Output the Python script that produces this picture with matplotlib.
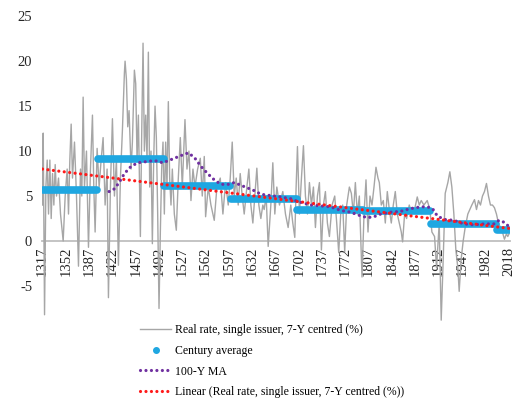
import matplotlib
matplotlib.use('Agg')
import matplotlib.pyplot as plt
from matplotlib.lines import Line2D

plt.rcParams['font.family'] = ['Liberation Serif', 'DejaVu Serif']
plt.rcParams['axes.unicode_minus'] = False

# real rate, single issuer, 7-Y centred (%)
rate_years = [1317, 1318, 1320, 1322, 1324, 1326, 1328, 1330, 1332, 1334, 1336, 1338, 1341, 1344,
              1348, 1351, 1354, 1356, 1358, 1360, 1362, 1365, 1368, 1371, 1374, 1376, 1378, 1380,
              1383, 1386, 1389, 1392, 1394, 1396, 1399, 1402, 1405, 1408, 1411, 1414, 1416, 1419,
              1422, 1425, 1428, 1431, 1434, 1437, 1440, 1441, 1443, 1445, 1447, 1450, 1452, 1455,
              1457, 1459, 1461, 1464, 1466, 1468, 1470, 1472, 1474, 1476, 1478, 1480, 1482, 1484,
              1486, 1488, 1490, 1492, 1494, 1496, 1498, 1500, 1502, 1504, 1506, 1508, 1510, 1512,
              1515, 1518, 1521, 1524, 1527, 1531, 1534, 1537, 1540, 1543, 1546, 1550, 1554, 1557,
              1560, 1562, 1566, 1570, 1575, 1579, 1584, 1588, 1592, 1596, 1599, 1602, 1605, 1608,
              1611, 1614, 1617, 1620, 1624, 1627, 1630, 1633, 1636, 1639, 1642, 1645, 1648, 1650,
              1653, 1656, 1660, 1663, 1666, 1669, 1673, 1678, 1682, 1686, 1690, 1693, 1696, 1698,
              1700, 1703, 1706, 1709, 1712, 1715, 1718, 1721, 1724, 1727, 1730, 1733, 1736, 1739,
              1742, 1745, 1748, 1752, 1756, 1759, 1762, 1765, 1768, 1771, 1774, 1778, 1781, 1784,
              1787, 1790, 1793, 1797, 1800, 1803, 1806, 1809, 1812, 1815, 1818, 1821, 1823, 1826,
              1829, 1832, 1835, 1838, 1841, 1844, 1847, 1850, 1853, 1856, 1858, 1861, 1864, 1868,
              1872, 1876, 1880, 1883, 1886, 1890, 1895, 1899, 1902, 1906, 1909, 1913, 1916, 1919,
              1922, 1926, 1929, 1932, 1935, 1938, 1941, 1943, 1946, 1949, 1952, 1956, 1959, 1962,
              1966, 1969, 1972, 1975, 1978, 1981, 1984, 1987, 1990, 1993, 1996, 1999, 2002, 2005,
              2008, 2011, 2014, 2016, 2018]
rate_values = [4, 12, -8.2, 6, 9, 3, 9, 2.5, 7.5, 4, 8.5, 5, 7, 3,
               0, 5, 8, 3, 9, 13, 7, 11, 5, -2.8, 8, 5, 16, 6,
               10, -0.7, 8, 14, 6, 1, 10.3, 6, 9, 11.5, 4, 8, -6.3, 6,
               13.6, 5, 9, -2.7, 7, 12.3, 18.7, 20, 18, 12.7, 14.5, 8, 11, 19,
               17.5, 9, 14, 0.5, 12, 22, 10, 14, 9, 21, 6, 10, -0.3, 9,
               15, 11.5, 3, -7.5, 1, 8, 11, 3, 11, 6, 15.5, 7, 4, 8,
               3, 1.2, 7, 11.5, 6, 13.5, 8, 10, 4.5, 8, 6, 8, 9.2, 5,
               9.4, 2.7, 6, 4, 2.3, 6, 7, 3, 6.5, 4, 7, 11, 5, 7,
               4, 7.5, 5, 3, 6, 8, 4, 2, 5, 8.1, 4, 2.5, 4, 3.5,
               5, -0.6, 4, 8.7, 3, 6, 4, 5.5, 3, 1.5, 4, 2, 0.4, 6,
               10.5, 3, 7, 10.6, 5, 3, 6.5, 4, 6, 1.5, 5, 6.5, -1, 4,
               5.5, 2, 0.5, 4, 5, 2, -1.3, 3, 4, -1.2, 4, 6, 5.3, 3,
               6.5, 3, 5, -4, 3, 6.8, 1, 5, 4, 6, 8.2, 7, 6.5, 4,
               4.5, 2, 5.5, 3.5, 2, 4, 5.5, 3, 2, 1, -0.1, 3, 2.5, 4,
               3, 3.5, 4.9, 4, 4.5, 4, 4.5, 3.5, 1, 0.5, -3, 2, -8.8, -2,
               5.3, 6.5, 7.7, 6, 3, -1, -3, -5.6, -2, 0, 1.5, 3, 3.5, 4,
               4.6, 3.5, 4.5, 4, 5, 5.5, 6.4, 5, 4, 4, 3.7, 3, 2, 1.5,
               1, 0.2, 0.8, 0.5, 0.8]

# century averages
century_start = [1317, 1400, 1500, 1600, 1700, 1800, 1900, 2000]
century_end = [1399, 1499, 1599, 1699, 1799, 1899, 1999, 2018]
century_avg = [5.7, 9.1, 6.1, 4.7, 3.4, 3.3, 1.85, 1.2]

# 100-year moving average
ma_years = [1417, 1425, 1432, 1440, 1450, 1460, 1470, 1480, 1490, 1497, 1505, 1515, 1525,
            1536, 1545, 1555, 1565, 1575, 1585, 1597, 1605, 1615, 1625, 1635, 1645, 1655,
            1665, 1675, 1690, 1700, 1710, 1720, 1735, 1750, 1765, 1780, 1795, 1805, 1815,
            1825, 1840, 1855, 1870, 1885, 1895, 1903, 1910, 1920, 1935, 1950, 1965, 1980,
            1995, 2003, 2010, 2018]
ma_values = [5.5, 5.8, 6.5, 7.5, 8.3, 8.7, 8.8, 8.9, 8.9, 8.7, 8.9, 9.2, 9.5,
             9.8, 9.3, 8.3, 7.5, 6.8, 6.3, 6.3, 6.5, 6.2, 5.9, 5.6, 5.2, 5.1,
             5.0, 4.9, 4.7, 4.4, 4.2, 4.0, 3.9, 3.8, 3.4, 3.2, 2.8, 2.6, 2.7,
             3.0, 3.2, 3.3, 3.6, 3.8, 3.8, 3.6, 2.8, 2.4, 2.3, 1.9, 1.8, 1.9,
             1.9, 2.3, 2.1, 1.6]

# linear trend end points
trend_years = [1317, 2018]
trend_values = [8.0, 1.4]

tick_years = [1317, 1352, 1387, 1422, 1457, 1492, 1527, 1562, 1597, 1632, 1667, 1702,
              1737, 1772, 1807, 1842, 1877, 1912, 1947, 1982, 2018]

fig = plt.figure(figsize=(5.17, 4.05), dpi=100)
ax = fig.add_axes([0.081, 0.194, 0.905, 0.766])

ax.plot(rate_years, rate_values, color='#a6a6a6', lw=1.0,
        label='Real rate, single issuer, 7-Y centred (%)', zorder=2)
for s, e, v in zip(century_start, century_end, century_avg):
    ax.plot([s, e], [v, v], color='#1fa7e1', lw=5.5, solid_capstyle='round', zorder=3)
dots = (0, (0.01, 1.7))
ax.plot(ma_years, ma_values, color='#7030a0', lw=2.3, linestyle=dots,
        dash_capstyle='round', label='100-Y MA', zorder=4)
ax.plot(trend_years, trend_values, color='#ff1a1a', lw=2.3, linestyle=dots,
        dash_capstyle='round', label='Linear (Real rate, single issuer, 7-Y centred (%))', zorder=5)

for side in ['left', 'right', 'top']:
    ax.spines[side].set_visible(False)
ax.spines['bottom'].set_position(('data', 0))
ax.spines['bottom'].set_color('#bfbfbf')
ax.spines['bottom'].set_linewidth(1.3)
ax.spines['bottom'].set_zorder(1)

ax.set_xlim(1316, 2019)
ax.set_ylim(-9.5, 25)
ax.set_yticks([-5, 0, 5, 10, 15, 20, 25])
ax.set_xticks(tick_years)
ax.set_xticklabels([str(t) for t in tick_years])
ax.tick_params(axis='x', length=0, pad=4, labelsize=10.5, labelrotation=90, labelcolor='#262626')
ax.tick_params(axis='y', length=0, pad=7, labelsize=10.5, labelcolor='#262626')

handles, labels = ax.get_legend_handles_labels()
century_handle = Line2D([], [], color='#1fa7e1', marker='o', markersize=4, linestyle='none')
order = [handles[0], century_handle, handles[1], handles[2]]
names = [labels[0], 'Century average', labels[1], labels[2]]
fig.legend(order, names, loc='upper left', bbox_to_anchor=(0.26, 0.215), frameon=False,
           fontsize=8.5, handlelength=2.6, handletextpad=0.3, labelspacing=0.75,
           borderpad=0)

fig.savefig('out.png', dpi=100)
